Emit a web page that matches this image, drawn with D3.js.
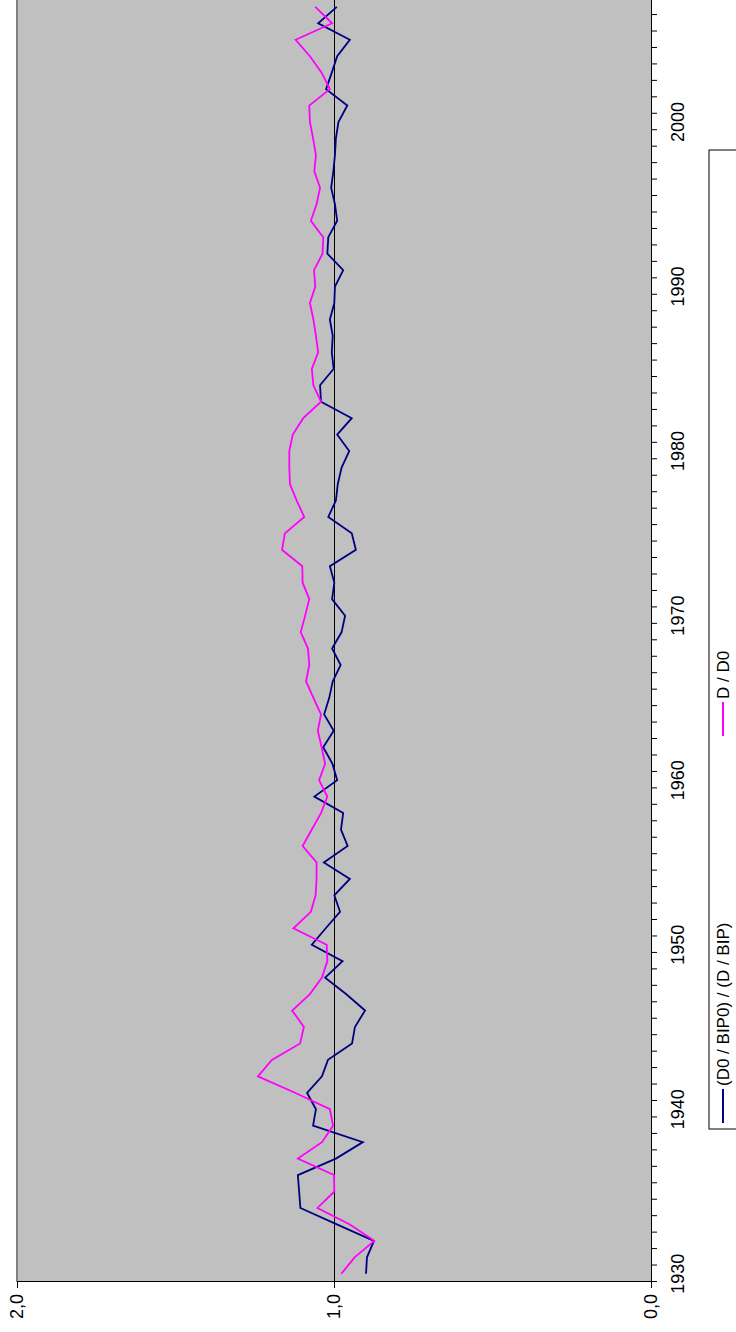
<!DOCTYPE html>
<html>
<head>
<meta charset="utf-8">
<script src="https://cdn.jsdelivr.net/npm/d3@7"></script>
<style>
  body { margin: 0; background: #fff; }
  text { font-family: "Liberation Sans", Arial, sans-serif; }
</style>
</head>
<body>
<div id="canvas"></div>
<script>
// page is 736 x 1332, chart drawn unrotated then turned -90deg
var w = 736;
var h = 1332;

// data, years 1930..2007
var years = d3.range(1930, 2008);
var labelYears = [1930, 1940, 1950, 1960, 1970, 1980, 1990, 2000];
var valueTicks = [0, 1, 2];

// (D0 / BIP0) / (D / BIP)
var ratioBip = [
  0.899, 0.896, 0.874, 0.991, 1.106, 1.110, 1.114, 0.994, 0.909, 1.066,
  1.057, 1.085, 1.038, 1.019, 0.943, 0.934, 0.902, 0.962, 1.028, 0.973,
  1.070, 1.026, 0.981, 0.999, 0.950, 1.032, 0.957, 0.978, 0.971, 1.062,
  0.990, 1.005, 1.034, 1.001, 1.031, 1.015, 1.004, 0.979, 1.006, 0.976,
  0.965, 1.006, 0.999, 1.013, 0.931, 0.944, 1.018, 0.994, 0.988, 0.976,
  0.952, 0.990, 0.944, 1.041, 1.044, 1.001, 1.007, 1.004, 1.013, 0.999,
  0.997, 0.971, 1.021, 1.018, 0.990, 0.997, 1.009, 1.002, 0.997, 0.994,
  0.986, 0.958, 1.025, 1.007, 0.990, 0.950, 1.050, 0.991
];

// D / D0
var ratioD = [
  0.977, 0.935, 0.873, 0.950, 1.052, 0.999, 1.000, 1.114, 1.038, 1.003,
  1.013, 1.123, 1.240, 1.196, 1.107, 1.095, 1.132, 1.076, 1.038, 1.021,
  1.023, 1.128, 1.073, 1.058, 1.055, 1.055, 1.099, 1.070, 1.041, 1.021,
  1.047, 1.028, 1.039, 1.051, 1.041, 1.065, 1.088, 1.078, 1.082, 1.105,
  1.091, 1.078, 1.099, 1.100, 1.164, 1.155, 1.094, 1.118, 1.139, 1.141,
  1.141, 1.130, 1.097, 1.041, 1.065, 1.070, 1.050, 1.057, 1.065, 1.076,
  1.059, 1.063, 1.036, 1.034, 1.073, 1.055, 1.044, 1.062, 1.057, 1.066,
  1.076, 1.078, 1.013, 1.039, 1.076, 1.121, 1.006, 1.059
];

var seriesNames = ["(D0 / BIP0) / (D / BIP)", "D / D0"];
var seriesColors = ["#000080", "#ff00ff"];

var svg = d3.select("#canvas")
    .append("svg")
    .attr("width", w)
    .attr("height", h);

// rotated group: u runs along page height (bottom -> top), v along page width
var g = svg.append("g")
    .attr("transform", `translate(0,${h}) rotate(-90)`);

var plotLeft = 50, plotRight = 1333.4, plotTop = 17, plotBottom = 651;

var x = d3.scaleBand()
    .domain(years)
    .range([plotLeft, plotRight])
    .padding(0);

var xTicks = d3.scaleLinear()
    .domain([1929.5, 2007.5])
    .range([plotLeft, plotRight]);

var y = d3.scaleLinear()
    .domain([0, 2])
    .range([plotBottom, plotTop]);

// plot area
g.append("rect")
    .attr("x", plotLeft)
    .attr("y", plotTop)
    .attr("width", plotRight - plotLeft)
    .attr("height", plotBottom - plotTop)
    .attr("fill", "#c0c0c0");

g.append("line")
    .attr("x1", plotLeft).attr("x2", plotRight)
    .attr("y1", plotTop).attr("y2", plotTop)
    .attr("stroke", "#808080")
    .attr("stroke-width", 2);

// gridline at 1,0
g.append("line")
    .attr("x1", plotLeft).attr("x2", plotRight)
    .attr("y1", y(1) + 0.5).attr("y2", y(1) + 0.5)
    .attr("stroke", "#000")
    .attr("stroke-width", 1)
    .attr("shape-rendering", "crispEdges");

// series lines
var series = [ratioBip, ratioD];
var line = d3.line()
    .x((d, i) => x(years[i]) + x.bandwidth() / 2)
    .y(d => y(d));

series.forEach(function(vals, k) {
    g.append("path")
        .datum(vals)
        .attr("d", line)
        .attr("fill", "none")
        .attr("stroke", seriesColors[k])
        .attr("stroke-width", 1.8)
        .attr("stroke-linejoin", "miter");
});

// value axis
var yAxis = g.append("g")
    .attr("transform", `translate(${plotLeft},0)`)
    .call(d3.axisLeft(y)
        .tickValues(valueTicks)
        .tickSize(6)
        .tickPadding(6)
        .tickFormat(d => d3.format(".1f")(d).replace(".", ",")));

// category axis: ticks between years, labels every decade
var xAxis = g.append("g")
    .attr("transform", `translate(0,${plotBottom})`)
    .call(d3.axisBottom(xTicks)
        .tickValues(d3.range(1929.5, 2008, 1))
        .tickSize(6)
        .tickFormat(""));

var xLabels = g.append("g")
    .attr("transform", `translate(0,${plotBottom})`)
    .call(d3.axisBottom(x)
        .tickValues(labelYears)
        .tickSize(0)
        .tickPadding(20)
        .tickFormat(d3.format("d")));
xLabels.select(".domain").remove();

[yAxis, xAxis, xLabels].forEach(function(a) {
    a.selectAll("text")
        .style("font-size", "18px")
        .attr("fill", "#000");
    a.selectAll("line, path").attr("stroke", "#000");
});

// legend
var legend = g.append("g");
legend.append("rect")
    .attr("x", 203)
    .attr("y", 709)
    .attr("width", 979)
    .attr("height", 60)
    .attr("fill", "#fff")
    .attr("stroke", "#000")
    .attr("stroke-width", 1);

var legendX = [209, 596];
seriesNames.forEach(function(name, k) {
    legend.append("line")
        .attr("x1", legendX[k]).attr("x2", legendX[k] + 34)
        .attr("y1", 723).attr("y2", 723)
        .attr("stroke", seriesColors[k])
        .attr("stroke-width", 2);
    legend.append("text")
        .attr("x", legendX[k] + 37)
        .attr("y", 723)
        .attr("dy", "0.35em")
        .style("font-size", "17px")
        .text(name);
});
</script>
</body>
</html>
